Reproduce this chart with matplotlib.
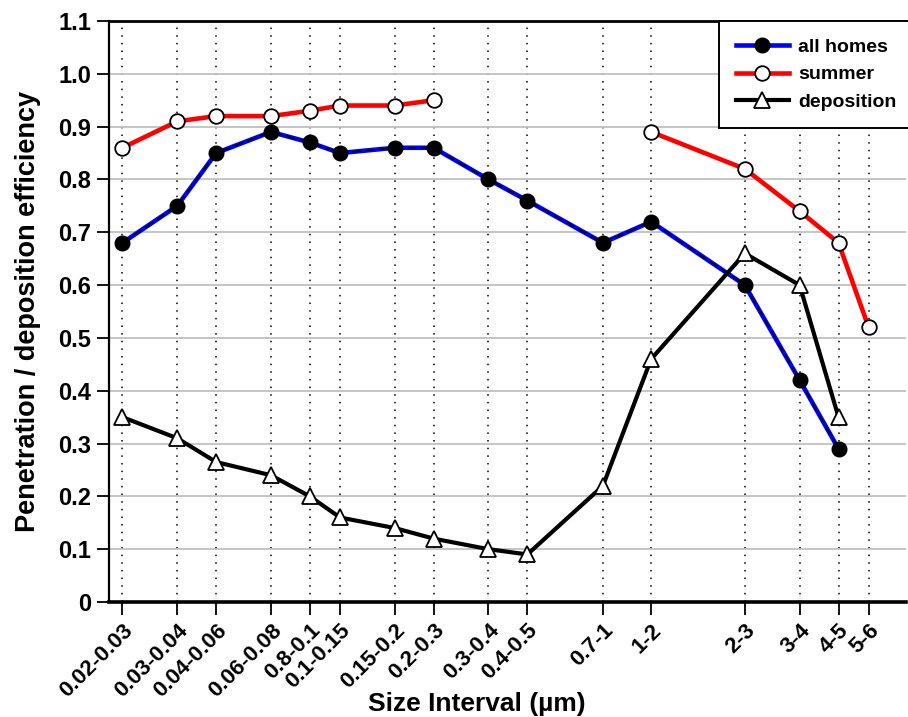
import numpy as np
import matplotlib.pyplot as plt

plt.rcParams['font.family'] = ['Liberation Sans', 'DejaVu Sans']
plt.rcParams['font.weight'] = 'bold'

# size intervals (µm); position on the axis = lower bound, log scale
labels = ['0.02-0.03', '0.03-0.04', '0.04-0.06', '0.06-0.08', '0.8-0.1', '0.1-0.15',
          '0.15-0.2', '0.2-0.3', '0.3-0.4', '0.4-0.5', '0.7-1', '1-2',
          '2-3', '3-4', '4-5', '5-6']
lower = [0.02, 0.03, 0.04, 0.06, 0.08, 0.1, 0.15, 0.2, 0.3, 0.4, 0.7, 1, 2, 3, 4, 5]

all_homes = [0.68, 0.75, 0.85, 0.89, 0.87, 0.85, 0.86, 0.86, 0.80, 0.76, 0.68, 0.72,
             0.60, 0.42, 0.29, np.nan]
summer = [0.86, 0.91, 0.92, 0.92, 0.93, 0.94, 0.94, 0.95, np.nan, np.nan, np.nan, 0.89,
          0.82, 0.74, 0.68, 0.52]
deposition = [0.35, 0.31, 0.265, 0.24, 0.20, 0.16, 0.14, 0.12, 0.10, 0.09, 0.22, 0.46,
              0.66, 0.60, 0.35, np.nan]

fig = plt.figure(figsize=(9.08, 7.17), dpi=100)
ax = fig.add_axes([0.12, 0.1604, 0.878, 0.8103])

ax.plot(lower, all_homes, color='blue', lw=3.3, zorder=3)
ax.plot(lower, all_homes, color='black', lw=1.1, ls=(0, (6, 3)), zorder=4)
ax.plot(lower, all_homes, ls='none', marker='o', ms=10.5, mfc='black', mec='black', zorder=5)
# legend proxy for all homes
h1, = ax.plot([], [], color='blue', lw=3.3, marker='o', ms=10.5, mfc='black', mec='black')
h2, = ax.plot(lower, summer, color='red', lw=3.3, marker='o', ms=10.5, mfc='white',
              mec='black', mew=1.3, zorder=3)
h3, = ax.plot(lower, deposition, color='black', lw=3.0, marker='^', ms=12, mfc='white',
              mec='black', mew=1.3, zorder=3)

ax.set_xscale('log')
ax.set_xlim(0.0181, 6.6)
ax.set_ylim(0, 1.1)
ax.set_xticks(lower)
ax.set_xticklabels(labels, rotation=45, ha='right', rotation_mode='anchor',
                   fontsize=16, fontweight='bold')
ax.xaxis.set_minor_locator(plt.NullLocator())
yt = np.round(np.arange(0, 1.11, 0.1), 1)
ax.set_yticks(yt)
ax.set_yticklabels(['0'] + ['%.1f' % v for v in yt[1:]], fontsize=17, fontweight='bold')
ax.tick_params(axis='both', direction='out', length=9, width=1.3, pad=4)

ax.yaxis.grid(True, color='#c0c0c0', lw=1.3)
ax.xaxis.grid(True, color='black', lw=1.1, ls=(0, (1, 4)))
ax.set_axisbelow(True)

ax.spines['left'].set_linewidth(1.6)
ax.spines['bottom'].set_linewidth(2.6)
ax.spines['top'].set_linewidth(2)
ax.spines['right'].set_visible(False)

ax.set_xlabel('Size Interval (µm)', fontsize=19, fontweight='bold')
ax.xaxis.set_label_coords(0.462, -0.155)
ax.set_ylabel('Penetration / deposition efficiency', fontsize=19.5, fontweight='bold',
              labelpad=12)

leg = ax.legend([h1, h2, h3], ['all homes', 'summer', 'deposition'], loc='upper right',
                bbox_to_anchor=(1.01, 1.0), borderaxespad=0, fancybox=False,
                framealpha=1, edgecolor='black', fontsize=14, handlelength=2.7,
                borderpad=0.9, labelspacing=0.5, handletextpad=0.5)
leg.get_frame().set_linewidth(1.4)
for t in leg.get_texts():
    t.set_fontweight('bold')

fig.savefig('out.png', dpi=100)
